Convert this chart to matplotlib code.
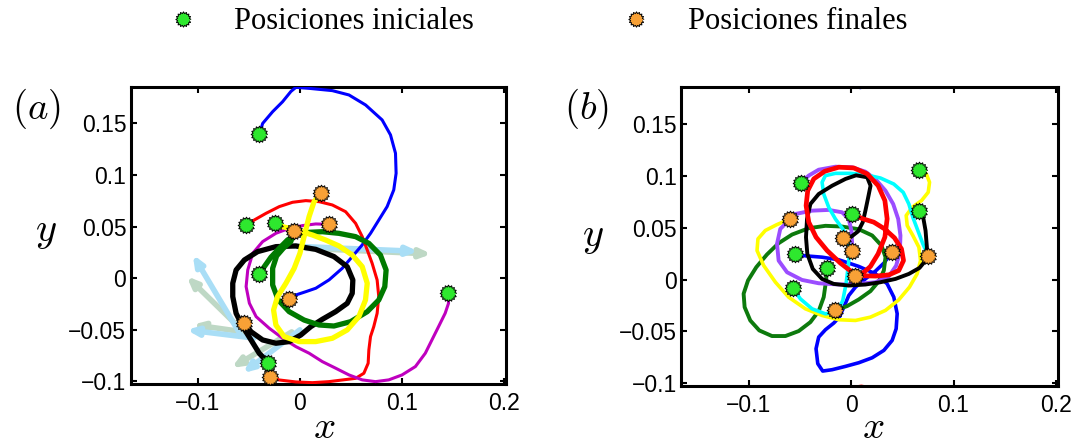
import numpy as np
import matplotlib
import matplotlib.pyplot as plt
from matplotlib.lines import Line2D

matplotlib.use("agg")

plt.rcParams["font.family"] = ["Liberation Sans", "DejaVu Sans"]
plt.rcParams["mathtext.fontset"] = "cm"

# panel (a) trajectories, start = initial position, end = final position
a_blue = [(-0.0397, 0.1395), (-0.0365, 0.150), (-0.0267, 0.1614), (-0.017, 0.171),
          (-0.0088, 0.181), (-0.0039, 0.185), (0.0091, 0.184), (0.0318, 0.1818),
          (0.0481, 0.1776), (0.0644, 0.1679), (0.0806, 0.1534), (0.0888, 0.1389),
          (0.0937, 0.1211), (0.0943, 0.1017), (0.092, 0.0856), (0.0855, 0.0694),
          (0.0774, 0.0565), (0.0693, 0.0436), (0.0611, 0.0323), (0.0513, 0.0209),
          (0.0416, 0.0097), (0.0286, -0.0016), (0.0156, -0.0097), (0.0059, -0.013),
          (-0.0039, -0.0162), (-0.0105, -0.0201)]
a_red = [(-0.0528, 0.0516), (-0.0446, 0.0565), (-0.0332, 0.0629), (-0.0202, 0.0694),
         (-0.0072, 0.0736), (0.0058, 0.0752), (0.0188, 0.0742), (0.0318, 0.071),
         (0.0448, 0.0645), (0.0546, 0.0532), (0.0611, 0.0403), (0.066, 0.0274),
         (0.0708, 0.0145), (0.0757, -0.0017), (0.0773, -0.0178), (0.0757, -0.034),
         (0.0724, -0.0469), (0.0692, -0.0566), (0.0676, -0.0695), (0.0669, -0.0824),
         (0.0627, -0.0921), (0.0546, -0.097), (0.0415, -0.0986), (0.0285, -0.1002),
         (0.0123, -0.1012), (-0.004, -0.1005), (-0.0202, -0.0986), (-0.0293, -0.0954)]
a_magenta = [(0.1447, -0.0145), (0.1457, -0.0242), (0.1424, -0.0339), (0.1359, -0.0469),
             (0.1294, -0.0598), (0.1229, -0.0727), (0.1132, -0.0856), (0.1001, -0.0937),
             (0.0871, -0.0985), (0.0741, -0.1002), (0.0611, -0.0985), (0.0481, -0.0937),
             (0.0351, -0.0872), (0.022, -0.0808), (0.0091, -0.0727), (-0.0039, -0.0663),
             (-0.017, -0.0581), (-0.03, -0.0485), (-0.0429, -0.0372), (-0.0495, -0.0242),
             (-0.0527, -0.0081), (-0.0511, 0.008), (-0.0462, 0.0242), (-0.0365, 0.0355),
             (-0.0234, 0.0436), (-0.0104, 0.0484), (0.0025, 0.051), (0.0156, 0.0526),
             (0.0285, 0.0522)]
a_green = [(-0.0398, 0.0038), (-0.0349, 0.0112), (-0.0284, 0.0203), (-0.0202, 0.029),
           (-0.0121, 0.0371), (-0.004, 0.042), (0.009, 0.0445), (0.022, 0.0451),
           (0.0383, 0.0435), (0.0546, 0.0403), (0.0676, 0.0338), (0.0789, 0.0225),
           (0.0845, 0.008), (0.0832, -0.0082), (0.0773, -0.0211), (0.066, -0.0324),
           (0.0497, -0.0421), (0.0334, -0.0463), (0.0188, -0.0453), (0.0041, -0.0405),
           (-0.0105, -0.0324), (-0.0212, -0.0211), (-0.0267, -0.0065), (-0.0267, 0.0096),
           (-0.0228, 0.0216), (-0.0163, 0.029), (-0.0089, 0.0355), (-0.0056, 0.0458)]
a_black = [(-0.031, -0.0818), (-0.0398, -0.0728), (-0.0479, -0.0598), (-0.056, -0.0469),
           (-0.0625, -0.034), (-0.0658, -0.0178), (-0.0658, -0.0049), (-0.0625, 0.008),
           (-0.0544, 0.0177), (-0.0414, 0.0258), (-0.0235, 0.0306), (-0.004, 0.0313),
           (0.0155, 0.028), (0.0334, 0.021), (0.0464, 0.0112), (0.0519, -0.0017),
           (0.0513, -0.0146), (0.0464, -0.0243), (0.035, -0.0324), (0.022, -0.0398),
           (0.0107, -0.0469), (0.0009, -0.055), (-0.0105, -0.0614), (-0.0235, -0.063),
           (-0.0365, -0.0598), (-0.0479, -0.0518), (-0.0544, -0.043)]
a_yellow = [(-0.0245, 0.0532), (-0.017, 0.050), (-0.004, 0.0468), (0.0123, 0.0419),
            (0.0253, 0.037), (0.0383, 0.0313), (0.0513, 0.0225), (0.0611, 0.0112),
            (0.066, -0.0049), (0.0643, -0.0211), (0.0578, -0.0372), (0.0464, -0.0501),
            (0.0318, -0.0582), (0.0155, -0.0614), (-0.0007, -0.0614), (-0.0154, -0.0566),
            (-0.0235, -0.0453), (-0.0258, -0.0308), (-0.0219, -0.0178), (-0.0137, -0.0049),
            (-0.0056, 0.0096), (0.0, 0.0241), (0.0041, 0.0403), (0.009, 0.0597),
            (0.0139, 0.0742), (0.0211, 0.0823)]

# faint arrows in panel (a): (tail, head)
a_arrows_blue = [((-0.058, -0.055), (-0.105, 0.023)),
                 ((-0.045, -0.058), (-0.111, -0.050)),
                 ((0.0, -0.050), (-0.056, -0.092)),
                 ((-0.005, 0.031), (0.116, 0.026))]
a_arrows_green = [((-0.052, -0.055), (-0.111, 0.002)),
                  ((-0.055, -0.052), (-0.105, -0.045)),
                  ((-0.008, -0.052), (-0.067, -0.087)),
                  ((0.006, 0.029), (0.129, 0.0235))]

# panel (b) trajectories
b_blue = [(-0.055, 0.0247), (-0.0446, 0.0228), (-0.0283, 0.0215), (-0.012, 0.019),
          (0.0075, 0.0126), (0.0238, 0.0055), (0.0352, -0.0041), (0.0417, -0.0169),
          (0.045, -0.0329), (0.044, -0.0474), (0.0401, -0.0586), (0.032, -0.0682),
          (0.0206, -0.0753), (0.0075, -0.0801), (-0.0055, -0.0836), (-0.0185, -0.0868),
          (-0.0277, -0.0881), (-0.0325, -0.081), (-0.0342, -0.0666), (-0.0316, -0.0554),
          (-0.025, -0.0483), (-0.0169, -0.0419), (-0.0114, -0.0362), (-0.0071, -0.0266),
          (-0.0022, -0.0153), (0.0043, -0.0073), (0.0141, 0.0007), (0.0238, 0.0081),
          (0.032, 0.0158), (0.0401, 0.0263)]
b_red = [(0.001, 0.0632), (0.0108, 0.0587), (0.0222, 0.0552), (0.0326, 0.0488),
         (0.0424, 0.0401), (0.0492, 0.0295), (0.0512, 0.0183), (0.0466, 0.0087),
         (0.0369, 0.0045), (0.0238, 0.0033), (0.0124, 0.0036), (0.001, 0.0071),
         (-0.0104, 0.0158), (-0.0234, 0.0279), (-0.0342, 0.0408), (-0.0413, 0.0552),
         (-0.0439, 0.0712), (-0.0423, 0.0856), (-0.0364, 0.0969), (-0.0257, 0.1042),
         (-0.012, 0.1081), (0.0026, 0.1074), (0.0157, 0.1017), (0.0264, 0.0904),
         (0.033, 0.076), (0.0352, 0.0584), (0.033, 0.0408), (0.0264, 0.0247),
         (0.0189, 0.0126), (0.0108, 0.0055), (0.0036, 0.0033)]
b_purple = [(-0.0489, 0.0929), (-0.0414, 0.100), (-0.0316, 0.1057), (-0.0153, 0.1086),
            (0.001, 0.108), (0.014, 0.1038), (0.0245, 0.0958), (0.0336, 0.0855),
            (0.0411, 0.0727), (0.046, 0.0583), (0.0482, 0.0423), (0.0476, 0.0262),
            (0.044, 0.0134), (0.0368, 0.0029), (0.0238, -0.0026), (0.0075, -0.0042),
            (-0.012, -0.0048), (-0.0316, -0.0036), (-0.0479, -0.0004), (-0.0625, 0.007),
            (-0.0707, 0.0182), (-0.0723, 0.0343), (-0.0691, 0.0487), (-0.0544, 0.0631),
            (-0.0381, 0.0663), (-0.0218, 0.067), (-0.0088, 0.0647), (-0.0023, 0.0583),
            (0.0003, 0.0471), (0.001, 0.0359), (0.001, 0.0278)]
b_cyan = [(-0.057, -0.008), (-0.0495, -0.0186), (-0.0381, -0.0282), (-0.0251, -0.033),
          (-0.0137, -0.0314), (-0.0081, -0.0202), (-0.0049, -0.0042), (-0.0029, 0.0118),
          (-0.0013, 0.0278), (-0.0029, 0.0391), (-0.0081, 0.0487), (-0.0153, 0.0583),
          (-0.0218, 0.0695), (-0.0267, 0.0823), (-0.0283, 0.0936), (-0.0251, 0.100),
          (-0.0153, 0.1022), (-0.0006, 0.1022), (0.014, 0.1009), (0.0287, 0.0977),
          (0.0417, 0.0919), (0.0509, 0.0839), (0.0564, 0.0727), (0.0603, 0.0599),
          (0.0652, 0.0471), (0.0701, 0.0343), (0.0753, 0.0228)]
b_black = [(0.0662, 0.0663), (0.0704, 0.0599), (0.0727, 0.0471), (0.074, 0.0311),
           (0.0727, 0.0182), (0.0668, 0.0112), (0.0564, 0.0054), (0.0434, 0.0006),
           (0.0287, -0.0026), (0.014, -0.0048), (-0.0023, -0.0058), (-0.017, -0.0042),
           (-0.0284, 0.0006), (-0.0374, 0.0102), (-0.0427, 0.0246), (-0.044, 0.0407),
           (-0.043, 0.0583), (-0.0397, 0.0727), (-0.0316, 0.0823), (-0.0185, 0.0903),
           (-0.0055, 0.0968), (0.0049, 0.1003), (0.0157, 0.0984), (0.019, 0.0903),
           (0.0167, 0.0791), (0.014, 0.0663), (0.0114, 0.0551), (0.0069, 0.0464),
           (0.0003, 0.0413), (-0.0081, 0.0404)]
b_yellow = [(0.0662, 0.1055), (0.0734, 0.1017), (0.0766, 0.0936), (0.0753, 0.084),
            (0.0688, 0.076), (0.0597, 0.0696), (0.0538, 0.0616), (0.0548, 0.052),
            (0.0603, 0.0424), (0.0662, 0.0311), (0.0678, 0.0183), (0.0645, 0.0055),
            (0.057, -0.0073), (0.0466, -0.0195), (0.0336, -0.0297), (0.0189, -0.0362),
            (0.0043, -0.0394), (-0.012, -0.0387), (-0.0283, -0.0346), (-0.0446, -0.0282),
            (-0.0609, -0.017), (-0.0739, -0.0025), (-0.0853, 0.0135), (-0.0918, 0.0279),
            (-0.0909, 0.0391), (-0.0837, 0.0472), (-0.0723, 0.0529), (-0.0593, 0.0584)]
b_green = [(-0.0234, 0.0113), (-0.0244, -0.0009), (-0.0267, -0.0169), (-0.0316, -0.0304),
           (-0.0397, -0.041), (-0.0511, -0.0496), (-0.0641, -0.0544), (-0.0772, -0.0544),
           (-0.0896, -0.049), (-0.0984, -0.0394), (-0.1039, -0.0266), (-0.1049, -0.0137),
           (-0.1006, -0.0009), (-0.0925, 0.0119), (-0.0821, 0.0241), (-0.0707, 0.035),
           (-0.0576, 0.0433), (-0.0413, 0.0494), (-0.025, 0.0517), (-0.0088, 0.051),
           (0.0075, 0.0484), (0.0206, 0.0424), (0.0297, 0.0327), (0.0336, 0.0215),
           (0.032, 0.0087), (0.0271, -0.0016), (0.0189, -0.0112), (0.0075, -0.0192),
           (-0.0039, -0.0256), (-0.0159, -0.0298)]
# bits of curves peeking in at the top and bottom edges of panel (b)
b_blue_edge = [(-0.006, 0.1885), (0.009, 0.1848), (0.024, 0.1885)]
b_red_edge = [(-0.012, -0.106), (0.01, -0.1028), (0.03, -0.106)]

x_ticks = [-0.1, 0, 0.1, 0.2]
x_tick_labels = ["\u22120.1", "0", "0.1", "0.2"]
y_ticks = [-0.1, -0.05, 0, 0.05, 0.1, 0.15]
y_tick_labels = ["\u22120.1", "\u22120.05", "0", "0.05", "0.1", "0.15"]
legend_labels = ["Posiciones iniciales", "Posiciones finales"]

GREEN_MK = "#2ee82e"
ORANGE_MK = "#f8a136"

# serrated "sun" marker like the MATLAB one
n_teeth = 16
ang = np.linspace(0, 2 * np.pi, 2 * n_teeth, endpoint=False)
rad = np.where(np.arange(2 * n_teeth) % 2 == 0, 1.0, 0.78)
sun = list(zip(rad * np.cos(ang), rad * np.sin(ang)))
MS = 12


def draw_paths(ax, paths):
    for pts, color, lw in paths:
        xy = np.array(pts)
        ax.plot(xy[:, 0], xy[:, 1], color=color, lw=lw, solid_joinstyle="round",
                solid_capstyle="round", zorder=3)
    for pts, _, _ in paths:
        ax.plot(pts[0][0], pts[0][1], ls="none", marker=sun, ms=MS, mfc=GREEN_MK,
                mec="black", mew=0.7, zorder=5)
        ax.plot(pts[-1][0], pts[-1][1], ls="none", marker=sun, ms=MS, mfc=ORANGE_MK,
                mec="black", mew=0.7, zorder=5)


def style_axes(ax):
    ax.set_xlim(-0.166, 0.202)
    ax.set_ylim(-0.1025, 0.185)
    ax.set_xticks(x_ticks)
    ax.set_xticklabels(x_tick_labels)
    ax.set_yticks(y_ticks)
    ax.set_yticklabels(y_tick_labels)
    ax.tick_params(direction="in", top=True, right=True, length=4, width=1.5,
                   labelsize=16.5, colors="black")
    ax.tick_params(axis="x", pad=6)
    ax.tick_params(axis="y", pad=3)
    for sp in ax.spines.values():
        sp.set_linewidth(2.2)


fig = plt.figure(figsize=(10.75, 4.46), dpi=100)
ax_a = fig.add_axes([0.1214, 0.139, 0.3493, 0.6652])
ax_b = fig.add_axes([0.6335, 0.1345, 0.3507, 0.6697])

# panel (a)
for (tail, head) in a_arrows_green:
    ax_a.annotate("", xy=head, xytext=tail, zorder=1,
                  arrowprops=dict(arrowstyle="-|>,head_length=0.6,head_width=0.25",
                                  lw=4, color="#bed8c5", shrinkA=0, shrinkB=0))
for (tail, head) in a_arrows_blue:
    ax_a.annotate("", xy=head, xytext=tail, zorder=1,
                  arrowprops=dict(arrowstyle="-|>,head_length=0.6,head_width=0.25",
                                  lw=4, color="#a9def6", shrinkA=0, shrinkB=0))
draw_paths(ax_a, [(a_blue, "#0000ff", 2.2), (a_red, "#ff0000", 2.2),
                  (a_magenta, "#bf00bf", 2.2), (a_black, "black", 3.8),
                  (a_green, "#007a00", 3.8), (a_yellow, "#ffff00", 3.8)])
style_axes(ax_a)

# panel (b)
ax_b.plot([p[0] for p in b_blue_edge], [p[1] for p in b_blue_edge], color="#0000ff", lw=2.5)
ax_b.plot([p[0] for p in b_red_edge], [p[1] for p in b_red_edge], color="#ff0000", lw=2.5)
draw_paths(ax_b, [(b_blue, "#0000ff", 2.6), (b_green, "#0d7a0d", 2.8),
                  (b_yellow, "#ffff00", 2.6), (b_purple, "#9b4dff", 2.8),
                  (b_cyan, "#00ffff", 2.6), (b_black, "black", 2.8),
                  (b_red, "#ff0000", 3.4)])
style_axes(ax_b)

# axis letters; x placed by baseline so it stays inside the figure
for ax, tag, xl, yl, tg in [(ax_a, "$(a)$", (0.515, -0.182), (-0.225, 0.512), (-0.25, 0.927)),
                            (ax_b, "$(b)$", (0.509, -0.174), (-0.233, 0.499), (-0.25, 0.927))]:
    ax.text(xl[0], xl[1], "$x$", transform=ax.transAxes, fontsize=28,
            ha="center", va="baseline")
    ax.text(yl[0], yl[1], "$y$", transform=ax.transAxes, fontsize=29,
            ha="center", va="center")
    ax.text(tg[0], tg[1], tag, transform=ax.transAxes, fontsize=28,
            ha="center", va="center")

handles = [Line2D([], [], ls="none", marker=sun, ms=11, mfc=GREEN_MK, mec="black", mew=0.7),
           Line2D([], [], ls="none", marker=sun, ms=11, mfc=ORANGE_MK, mec="black", mew=0.7)]
fig.legend(handles, legend_labels, loc="center", bbox_to_anchor=(0.5, 0.951), ncol=2,
           frameon=False, prop={"family": "Liberation Serif", "size": 22},
           handlelength=1.0, handletextpad=1.2, columnspacing=4.8, borderpad=0)

fig.savefig("out.png", dpi=100)
